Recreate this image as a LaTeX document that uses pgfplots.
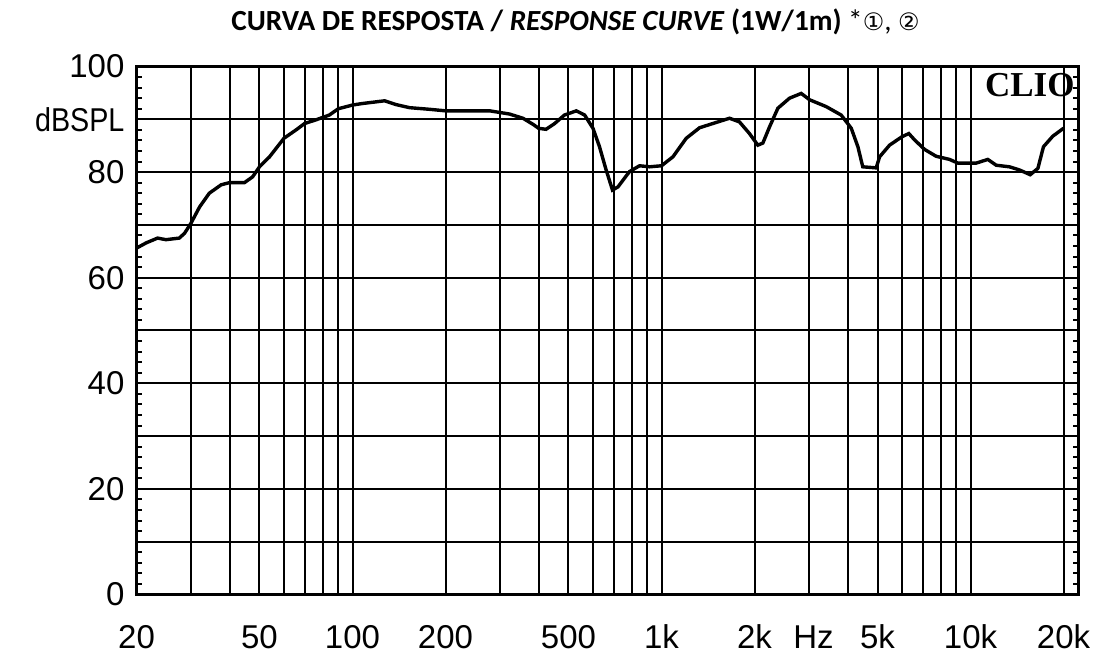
\documentclass[border=0pt]{standalone}
\usepackage{graphicx}
\usepackage{pgfplots}
\pgfplotsset{compat=1.18}
\usepackage{fontspec}
\setmainfont{Liberation Sans}
\newfontfamily\titlefont{Carlito}
\newfontfamily\cliofont{Liberation Serif}
\newfontfamily\dejavu{DejaVu Sans}

\pgfplotstableread{
f db
20 65.6
21.5 66.6
23.4 67.5
24.9 67.2
27.5 67.5
28.6 68.4
30 70.3
32 73.4
34.4 76.0
37.6 77.6
40 78.0
44.7 78.0
47.5 79.1
50 81.0
53.9 82.9
60 86.4
65.7 88.0
70 89.2
76.2 89.9
84.1 90.8
90 92.0
100 92.7
108 93.0
127 93.5
138 92.8
153 92.2
177 91.9
200 91.6
278 91.6
322 91.0
356 90.2
385 89.0
400 88.3
423 88.1
451 89.2
485 90.8
530 91.6
564 90.8
600 88.3
630 84.8
662 80.4
694 76.6
723 77.2
788 80.1
849 81.2
915 81.0
1000 81.2
1089 82.9
1202 86.4
1328 88.4
1466 89.2
1660 90.2
1788 89.5
1926 87.3
2050 85.1
2128 85.5
2238 88.6
2380 92.1
2596 94.0
2832 94.9
3014 93.7
3412 92.4
3816 90.8
4112 88.3
4320 84.8
4480 81.0
4952 80.8
5080 82.9
5470 85.1
6000 86.7
6314 87.3
6592 86.1
7098 84.3
7740 83.0
8552 82.4
9098 81.7
10430 81.7
11374 82.4
12110 81.3
13370 81.0
14412 80.4
15600 79.5
16520 80.7
17220 84.8
18460 86.8
20000 88.3
}\curve

\begin{document}
\begin{tikzpicture}
\path[use as bounding box] (0,0) rectangle (548pt,326.5pt);
\begin{axis}[
  at={(68.25pt,29.25pt)}, anchor=south west,
  scale only axis, width=471pt, height=264pt,
  xmode=log, log basis x=10,
  xmin=20, xmax=22360, ymin=0, ymax=100,
  axis line style={line width=1.5pt},
  xtick={20,50,100,200,500,1000,2000,5000,10000,20000},
  xticklabels={20,50,100,200,500,1k,2k,5k,10k,20k},
  minor xtick={30,40,60,70,80,90,300,400,600,700,800,900,3000,4000,6000,7000,8000,9000},
  extra x ticks={3104},
  extra x tick labels={Hz},
  extra x tick style={grid=none, major tick length=0pt},
  ytick={0,10,...,100},
  yticklabels={0,,20,,40,,60,,80,\scalebox{0.87}[1]{dBSPL},100},
  minor y tick num=4,
  xmajorgrids, xminorgrids, ymajorgrids,
  major grid style={black, line width=1pt},
  minor grid style={black, line width=1pt},
  major x tick style={draw=none},
  minor x tick style={draw=none},
  major y tick style={draw=none},
  minor y tick style={draw=black, line width=1pt},
  minor tick length=2.6pt,
  ytick pos=both, tick align=inside,
  ticklabel style={font=\fontsize{16.5}{16.5}\selectfont},
  xticklabel style={anchor=base, yshift=-26.8pt},
  yticklabel style={xshift=-2.5pt},
  yticklabel pos=left,
  clip=true,
]
\addplot[black, line width=1.7pt] table[x=f, y=db] {\curve};
\node[anchor=north east, inner sep=0pt, font=\cliofont\bfseries\fontsize{17.5}{17.5}\selectfont] at (rel axis cs:1,1) [xshift=-1.8pt, yshift=-3.3pt] {CLIO};
\end{axis}
\node[anchor=center, inner sep=0pt] at (287.75pt,315.5pt) {\titlefont\fontsize{14.6}{16}\selectfont\textbf{CURVA DE RESPOSTA / \textit{RESPONSE CURVE} (1W/1m)} *{\dejavu\fontsize{12}{14}\selectfont ①}, {\dejavu\fontsize{12}{14}\selectfont ②}};
\end{tikzpicture}
\end{document}
